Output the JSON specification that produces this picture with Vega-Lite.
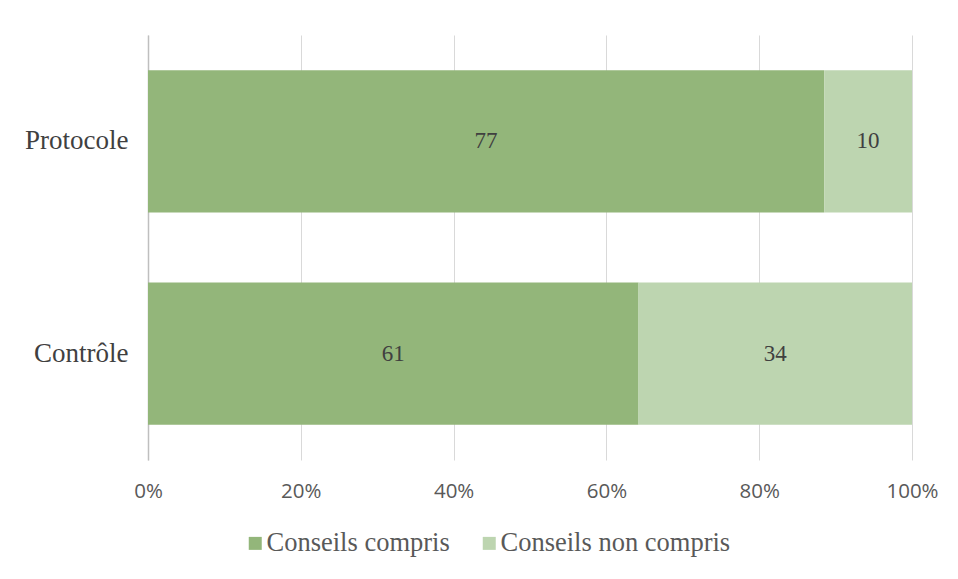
{
  "$schema": "https://vega.github.io/schema/vega-lite/v6.json",
  "width": 764,
  "height": 425,
  "autosize": {"type": "none"},
  "padding": {"left": 148, "top": 35, "right": 46, "bottom": 119},
  "background": "white",
  "data": {
    "values": [
      {"groupe": "Protocole", "type": "Conseils compris", "n": 77, "ord": 1},
      {"groupe": "Protocole", "type": "Conseils non compris", "n": 10, "ord": 2},
      {"groupe": "Contrôle", "type": "Conseils compris", "n": 61, "ord": 1},
      {"groupe": "Contrôle", "type": "Conseils non compris", "n": 34, "ord": 2}
    ]
  },
  "config": {
    "view": {"stroke": null},
    "axis": {"labelColor": "#595959"}
  },
  "encoding": {
    "y": {
      "field": "groupe",
      "type": "nominal",
      "sort": ["Protocole", "Contrôle"],
      "title": null,
      "scale": {"paddingInner": 0.33, "paddingOuter": 0.166},
      "axis": {
        "ticks": false,
        "domainColor": "#bfbfbf",
        "domainWidth": 1.5,
        "labelFont": "Liberation Serif",
        "labelFontSize": 27,
        "labelPadding": 20,
        "labelLimit": 300,
        "labelColor": "#404040"
      }
    }
  },
  "layer": [
    {
      "mark": {"type": "bar"},
      "encoding": {
        "x": {
          "field": "n",
          "type": "quantitative",
          "stack": "normalize",
          "title": null,
          "scale": {"domain": [0, 1]},
          "axis": {
            "format": ".0%",
            "values": [0, 0.2, 0.4, 0.6, 0.8, 1],
            "labelOverlap": false,
            "labelFlush": false,
            "domain": false,
            "ticks": false,
            "gridColor": "#d9d9d9",
            "labelFont": "Open Sans",
            "labelFontSize": 20.5,
            "labelPadding": 21
          }
        },
        "color": {
          "field": "type",
          "type": "nominal",
          "scale": {
            "domain": ["Conseils compris", "Conseils non compris"],
            "range": ["#93b67a", "#bdd5b0"]
          },
          "legend": {
            "title": null,
            "orient": "none",
            "legendX": 94,
            "legendY": 495,
            "direction": "horizontal",
            "symbolType": "square",
            "symbolSize": 169,
            "symbolStrokeWidth": 0,
            "labelFont": "Liberation Serif",
            "labelFontSize": 26.5,
            "labelColor": "#595959",
            "labelLimit": 400,
            "labelOffset": -2,
            "columnPadding": 26
          }
        },
        "order": {"field": "ord"}
      }
    },
    {
      "transform": [
        {"stack": "n", "groupby": ["groupe"], "sort": [{"field": "ord"}], "offset": "normalize", "as": ["x0", "x1"]},
        {"calculate": "(datum.x0 + datum.x1) / 2", "as": "xm"}
      ],
      "mark": {"type": "text", "font": "Liberation Serif", "fontSize": 23, "color": "#404040"},
      "encoding": {
        "x": {"field": "xm", "type": "quantitative"},
        "text": {"field": "n", "type": "quantitative"}
      }
    }
  ]
}
